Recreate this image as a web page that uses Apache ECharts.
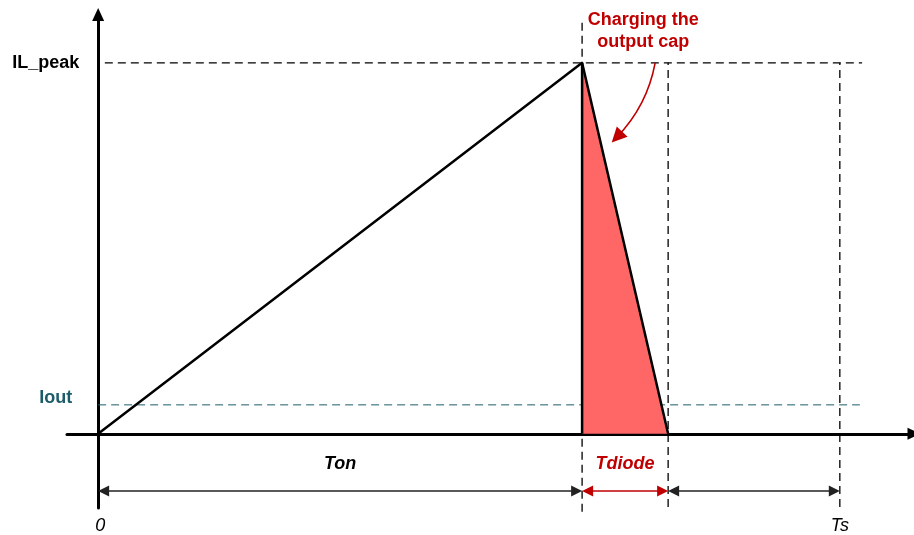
<!DOCTYPE html>
<html>
<head>
<meta charset="utf-8">
<script src="https://cdn.jsdelivr.net/npm/echarts@6/dist/echarts.min.js"></script>
<style>
  html, body { margin: 0; padding: 0; background: #fff; }
  #main { width: 914px; height: 535px; }
</style>
</head>
<body>
<div id="main"></div>
<script>
// time marks along the switching period (0, Ton, Ton+Tdiode, Ts)
var timeLabels = ['0', 'Ton', 'Tdiode', 'Ts'];
var timePoints = [0, 6.525, 7.685, 10];
// current levels
var levelLabels = ['IL_peak', 'Iout'];
var levelValues = [10, 0.78];
// inductor current waveform
var waveTime = [0, 6.525, 7.685];
var waveCurrent = [0, 10, 0];

var ton = timePoints[1], tdEnd = timePoints[2], ts = timePoints[3];
var peak = levelValues[0], iout = levelValues[1];

var xMin = -0.42, xMax = 11.0, yMin = -2, yMax = 11.3;
var pxPerX = 847 / (xMax - xMin);
var font = "'Liberation Sans', Arial, sans-serif";
var red = '#c00000';
var teal = '#1d5c6b';
var dimY = -1.54;
var textY = -0.81;
var tickY = -2.48;
var inset = 5.5 / pxPerX;

var myChart = echarts.init(document.getElementById('main'));

function pairs(xs, ys) {
  return xs.map(function (x, i) { return [x, ys[i]]; });
}

function guide(name, pts, color, width) {
  return {
    name: name,
    type: 'line',
    data: pts,
    symbol: 'none',
    clip: false,
    silent: true,
    lineStyle: { color: color, width: width, type: [8, 5] },
    z: 1
  };
}

function text(pos, str, style) {
  return {
    type: 'scatter',
    data: [pos],
    symbolSize: 0,
    clip: false,
    silent: true,
    itemStyle: { opacity: 1 },
    label: Object.assign({
      show: true,
      formatter: str,
      fontFamily: font,
      fontSize: 18,
      color: '#000',
      position: 'inside'
    }, style)
  };
}

function dim(x1, x2, color) {
  return [
    { coord: [x1 + inset, dimY], lineStyle: { color: color, width: 1.5, type: 'solid' }, itemStyle: { color: color } },
    { coord: [x2 - inset, dimY] }
  ];
}

var option = {
  animation: false,
  grid: { left: 67, right: 0, top: 14.6, bottom: 27 },
  xAxis: {
    type: 'value',
    min: xMin,
    max: xMax,
    axisLine: {
      onZero: true,
      symbol: ['none', 'triangle'],
      symbolSize: [12, 13],
      lineStyle: { color: '#000', width: 3 }
    },
    axisTick: { show: false },
    axisLabel: { show: false },
    splitLine: { show: false }
  },
  yAxis: {
    type: 'value',
    min: yMin,
    max: yMax,
    axisLine: {
      show: true,
      onZero: true,
      symbol: ['none', 'triangle'],
      symbolSize: [12, 13],
      lineStyle: { color: '#000', width: 3 }
    },
    axisTick: { show: false },
    axisLabel: { show: false },
    splitLine: { show: false }
  },
  series: [
    guide('peakGuide', [[0.09, peak], [ts * 1.03, peak]], '#000', 1.3),
    guide('ioutGuide', [[0, iout], [ts * 1.027, iout]], teal, 1),
    guide('tonGuide', [[ton, -2.1], [ton, 11.16]], '#000', 1.3),
    guide('tdGuide', [[tdEnd, -1.97], [tdEnd, peak]], '#000', 1.3),
    guide('tsGuide', [[ts, -1.97], [ts, peak]], '#000', 1.3),
    {
      name: 'diodeArea',
      type: 'line',
      data: [[ton, peak], [tdEnd, 0]],
      symbol: 'none',
      lineStyle: { width: 0 },
      areaStyle: { color: '#ff6666', opacity: 1 },
      z: 2
    },
    {
      name: 'edge',
      type: 'line',
      data: [[ton, 0], [ton, peak]],
      symbol: 'none',
      lineStyle: { color: '#000', width: 2.5 },
      z: 3
    },
    {
      name: 'IL',
      type: 'line',
      data: pairs(waveTime, waveCurrent),
      symbol: 'none',
      lineStyle: { color: '#000', width: 2.5 },
      z: 3
    },
    {
      name: 'dims',
      type: 'line',
      data: [],
      markLine: {
        silent: true,
        animation: false,
        symbol: ['triangle', 'triangle'],
        symbolSize: [11, 11],
        label: { show: false },
        emphasis: { disabled: true },
        data: [
          dim(0, ton, '#222'),
          dim(ton, tdEnd, red),
          dim(tdEnd, ts, '#222')
        ]
      }
    },
    {
      name: 'callout',
      type: 'lines',
      coordinateSystem: 'cartesian2d',
      silent: true,
      symbol: ['none', 'triangle'],
      symbolSize: [13, 15],
      lineStyle: { color: red, width: 1.6, opacity: 1, curveness: 0.15 },
      data: [
        { coords: [[7.51, peak], [6.995, 8.0]] }
      ],
      z: 4
    },
    text([-0.256, peak], levelLabels[0], { fontWeight: 'bold', position: 'left', distance: 0 }),
    text([-0.35, 0.97], levelLabels[1], { fontWeight: 'bold', color: teal, position: 'left', distance: 0 }),
    text([ton / 2, textY], timeLabels[1], { fontWeight: 'bold', fontStyle: 'italic' }),
    text([(ton + tdEnd) / 2, textY], timeLabels[2], { fontWeight: 'bold', fontStyle: 'italic', color: red }),
    text([0.03, tickY], timeLabels[0], { fontStyle: 'italic' }),
    text([ts, tickY], timeLabels[3], { fontStyle: 'italic' }),
    text([7.35, 10.86], 'Charging the\noutput cap', { fontWeight: 'bold', color: red, lineHeight: 22 })
  ]
};

myChart.setOption(option);
</script>
</body>
</html>
